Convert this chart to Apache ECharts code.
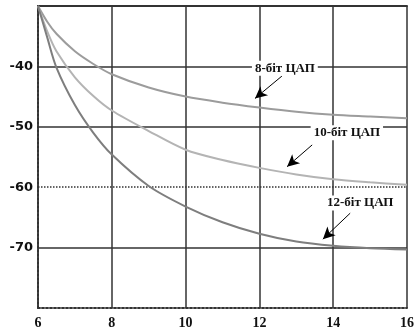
<!DOCTYPE html>
<html>
<head>
<meta charset="utf-8">
<script src="https://cdn.jsdelivr.net/npm/echarts@6/dist/echarts.min.js"></script>
<style>html,body{margin:0;padding:0;background:#fff}#c{width:420px;height:331px}</style>
</head>
<body>
<div id="c"></div>
<script>
// Data
const xTicks = [6, 8, 10, 12, 14, 16];
const yTicks = [-40, -50, -60, -70];
const seriesNames = ['8-біт ЦАП', '10-біт ЦАП', '12-біт ЦАП'];
const xs = [6, 6.25, 6.5, 7, 7.5, 8, 9, 10, 11, 12, 13, 14, 15, 16];
const dac8 = [-30, -32.6, -34.6, -37.5, -39.6, -41.3, -43.5, -45.0, -46.0, -46.8, -47.5, -48.0, -48.3, -48.6];
const dac10 = [-30, -34.2, -37.5, -41.8, -44.9, -47.3, -50.7, -53.8, -55.5, -56.8, -57.9, -58.7, -59.2, -59.6];
const dac12 = [-30, -35.2, -40.2, -46.4, -51.0, -54.6, -59.8, -63.2, -65.8, -67.7, -69.0, -69.7, -70.1, -70.3];

// Annotation placement (layout, in data coordinates)
const annot = [
  {text: seriesNames[0], at: [12.69, -40.3], from: [12.61, -41.6], to: [11.88, -45.3]},
  {text: seriesNames[1], at: [14.37, -51.0], from: [13.43, -53.0], to: [12.75, -56.6]},
  {text: seriesNames[2], at: [14.73, -62.6], from: [14.46, -64.3], to: [13.72, -68.6]}
];
const colors = ['#9c9c9c', '#b4b4b4', '#7e7e7e'];
const values = [dac8, dac10, dac12];

const chart = echarts.init(document.getElementById('c'));
const series = values.map((v, i) => ({
  type: 'line',
  name: seriesNames[i],
  data: xs.map((x, k) => [x, v[k]]),
  smooth: 0.3,
  showSymbol: false,
  lineStyle: {color: colors[i], width: 2},
  z: 3,
  markLine: {
    silent: true,
    symbol: ['none', 'arrow'],
    symbolSize: [9, 12],
    lineStyle: {color: '#000', width: 1, type: 'solid'},
    label: {show: false},
    data: [[{coord: annot[i].from}, {coord: annot[i].to}]],
    z: 5
  },
  markPoint: {
    silent: true,
    symbol: 'rect',
    symbolSize: 0,
    label: {
      show: true,
      formatter: annot[i].text,
      fontFamily: 'Liberation Serif',
      fontWeight: 'bold',
      fontSize: 13,
      color: '#111',
      backgroundColor: '#fff',
      padding: [1, 3],
      position: 'inside'
    },
    data: [{coord: annot[i].at}],
    z: 6
  }
}));

// horizontal grid lines drawn through the y scale; -60 dotted
series.unshift({
  type: 'line',
  data: [],
  silent: true,
  z: 1,
  markLine: {
    silent: true,
    symbol: 'none',
    label: {show: false},
    animation: false,
    data: yTicks.map(v => ({
      yAxis: v,
      lineStyle: {color: '#333', width: 1.5, type: v === -60 ? 'dotted' : 'solid'}
    })),
    z: 1
  }
});

chart.setOption({
  animation: false,
  backgroundColor: '#fff',
  grid: {left: 38, right: 13, top: 6, bottom: 23},
  xAxis: [{
    type: 'value', min: 6, max: 16, interval: 2,
    axisLine: {show: true, lineStyle: {color: '#333', width: 2, type: 'dotted'}},
    axisTick: {show: false},
    splitLine: {show: true, lineStyle: {color: '#333', width: 1.5}},
    axisLabel: {
      margin: 8, color: '#111', fontFamily: 'Liberation Serif', fontWeight: 'bold', fontSize: 14,
      formatter: v => xTicks.includes(v) ? String(v) : ''
    }
  }, {
    type: 'value', min: 6, max: 16, interval: 2, position: 'top',
    axisLine: {show: true, onZero: false, lineStyle: {color: '#333', width: 2}},
    axisTick: {show: false},
    axisLabel: {show: false},
    splitLine: {show: false}
  }],
  yAxis: {
    type: 'value', min: -80, max: -30, interval: 10,
    axisLine: {show: true, lineStyle: {color: '#333', width: 2, type: 'dotted'}},
    axisTick: {show: false},
    splitLine: {show: false},
    axisLabel: {
      margin: 5, color: '#111', fontFamily: 'DejaVu Sans', fontWeight: 'bold', fontSize: 13,
      formatter: v => yTicks.includes(v) ? String(v) : ''
    }
  },
  series: series
});
</script>
</body>
</html>
